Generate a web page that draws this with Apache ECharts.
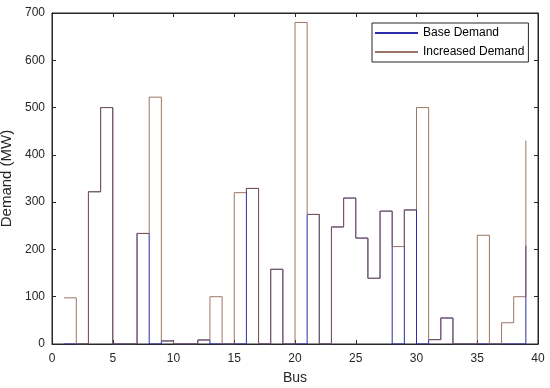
<!DOCTYPE html>
<html>
<head>
<meta charset="utf-8">
<script src="https://cdn.jsdelivr.net/npm/echarts@6/dist/echarts.min.js"></script>
<style>html,body{margin:0;padding:0;background:#fff}#c{width:550px;height:388px}</style>
</head>
<body>
<div id="c"></div>
<script>
// Bus numbers 1..39
var buses = [1,2,3,4,5,6,7,8,9,10,11,12,13,14,15,16,17,18,19,20,21,22,23,24,25,26,27,28,29,30,31,32,33,34,35,36,37,38,39];
var baseDemand = [0,0,322,500,0,0,233.8,0,6.5,0,0,8.5,0,0,0,329,0,158,0,0,274,0,247.5,308.6,224,139,281,0,283.5,0,9.2,55,0,0,0,0,0,0,208];
var increasedDemand = [97.6,0,322,500,0,0,233.8,522,6.5,0,0,8.5,100,0,320,329,0,158,0,680,274,0,247.5,308.6,224,139,281,206,283.5,500,9.2,55,0,0,230,0,45,100,430];
var xTicks = [0,5,10,15,20,25,30,35,40];
var yTicks = [0,100,200,300,400,500,600,700];

function pairs(xs, ys){ return xs.map(function(x,i){ return [x, ys[i]]; }); }

var axisCol = '#262626';
var font = 'Liberation Sans, Arial, sans-serif';
var chart = echarts.init(document.getElementById('c'), null, {renderer:'canvas'});
chart.setOption({
  animation:false,
  grid:{left:52, right:12, top:13, bottom:44, show:true, borderColor:axisCol, borderWidth:1, backgroundColor:'transparent', outerBoundsMode:'none', containLabel:false},
  xAxis:[{
    type:'value', min:xTicks[0], max:xTicks[xTicks.length-1], interval:5,
    name:'Bus', nameLocation:'middle', nameGap:27,
    nameTextStyle:{color:axisCol, fontSize:14, fontFamily:font},
    axisLine:{show:true, onZero:false, lineStyle:{color:axisCol, width:1}},
    axisTick:{show:true, inside:true, length:4, lineStyle:{color:axisCol}},
    axisLabel:{color:axisCol, fontSize:12, fontFamily:font, margin:9},
    splitLine:{show:false}
  },{
    type:'value', position:'top', min:0, max:40, interval:5,
    axisLine:{show:true, onZero:false, lineStyle:{color:axisCol, width:1}},
    axisTick:{show:true, inside:true, length:4, lineStyle:{color:axisCol}},
    axisLabel:{show:false}, splitLine:{show:false}
  }],
  yAxis:[{
    type:'value', min:yTicks[0], max:yTicks[yTicks.length-1], interval:100,
    name:'Demand (MW)', nameLocation:'middle', nameGap:29,
    nameTextStyle:{color:axisCol, fontSize:15, fontFamily:font},
    axisLine:{show:true, onZero:false, lineStyle:{color:axisCol, width:1}},
    axisTick:{show:true, inside:true, length:4, lineStyle:{color:axisCol}},
    axisLabel:{color:axisCol, fontSize:12, fontFamily:font, margin:7},
    splitLine:{show:false}
  },{
    type:'value', position:'right', min:0, max:700, interval:100,
    axisLine:{show:true, onZero:false, lineStyle:{color:axisCol, width:1}},
    axisTick:{show:true, inside:true, length:4, lineStyle:{color:axisCol}},
    axisLabel:{show:false}, splitLine:{show:false}
  }],
  legend:{
    show:true, orient:'vertical', left:372, top:23,
    backgroundColor:'#fff', borderColor:axisCol, borderWidth:1,
    padding:[3,4,3,2], itemGap:5, itemWidth:43, itemHeight:14,
    itemStyle:{opacity:0},
    textStyle:{color:'#000', fontSize:12, fontFamily:font, lineHeight:14},
    data:['Base Demand','Increased Demand']
  },
  series:[{
    name:'Base Demand', type:'line', step:'end', symbol:'none', showSymbol:false,
    xAxisIndex:0, yAxisIndex:0,
    data:pairs(buses, baseDemand),
    lineStyle:{color:'#2c2ca8', width:1},
    itemStyle:{color:'#2c2ca8'}
  },{
    name:'Increased Demand', type:'line', step:'end', symbol:'none', showSymbol:false,
    xAxisIndex:0, yAxisIndex:0,
    data:pairs(buses, increasedDemand),
    lineStyle:{color:'#8a5e48', width:1, opacity:0.85},
    itemStyle:{color:'#a57a62'}
  }]
});
</script>
</body>
</html>
